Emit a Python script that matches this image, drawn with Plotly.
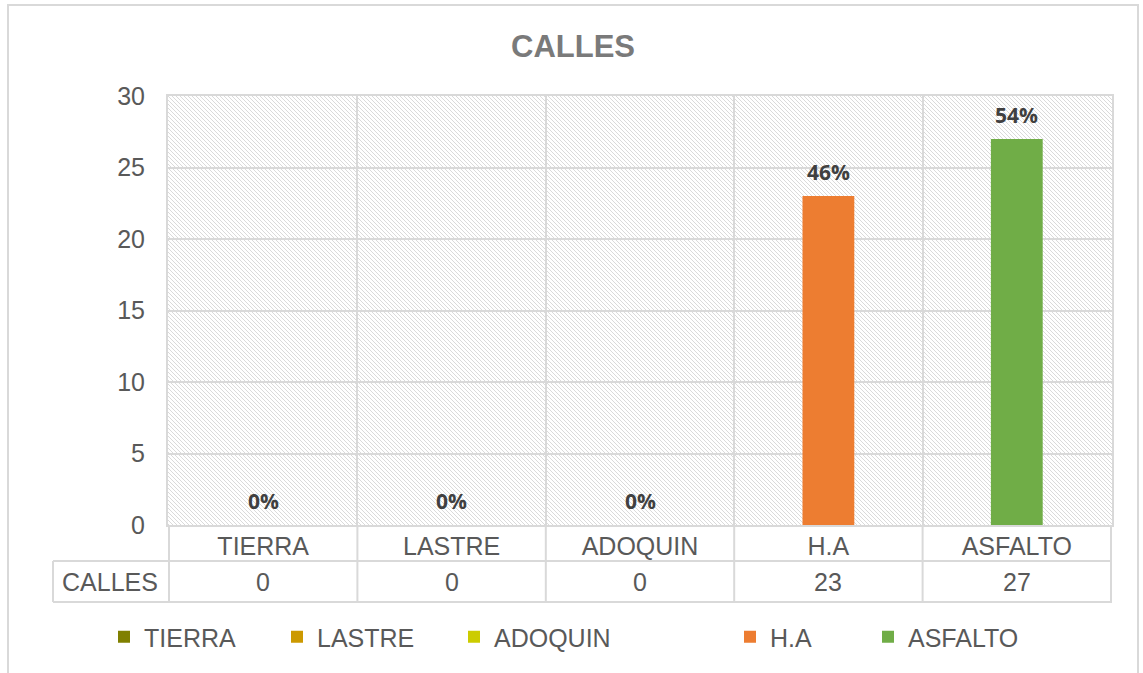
import base64
import plotly.graph_objects as go

categories = ["TIERRA", "LASTRE", "ADOQUIN", "H.A", "ASFALTO"]
values = [0, 0, 0, 23, 27]
colors = ["#808000", "#CC9900", "#CCCC00", "#ED7D31", "#70AD47"]
row_label = "CALLES"
title_text = "CALLES"
y_ticks = [0, 5, 10, 15, 20, 25, 30]

W, H = 1143, 673
L, R, T, B = 168, 31, 96, 148
PW, PH = W - L - R, H - T - B

def px_x(p):
    return (p - L) / PW

def px_y(p):
    return (H - B - p) / PH

GRID = "#D9D9D9"
TXT = "#595959"

fig = go.Figure()
legend_text_x = [147, 320, 497, 773, 911]
for i, (c, v, col) in enumerate(zip(categories, values, colors)):
    lg = "legend" if i == 0 else f"legend{i+1}"
    fig.add_trace(go.Bar(x=[c], y=[v], name=c, marker=dict(color=col, line=dict(width=0)),
                         width=0.275, legend=lg, hoverinfo="x+y"))

total = sum(values)
ann = []
for c, v in zip(categories, values):
    ann.append(dict(x=c, y=v, xref="x", yref="y", text=f"<b>{round(100*v/total)}%</b>",
                    showarrow=False, yanchor="bottom", yshift=8,
                    font=dict(family="Open Sans", size=21, color="#404040")))
    ann.append(dict(x=c, y=px_y(581.5), xref="x", yref="paper", text=str(v), showarrow=False,
                    yanchor="middle", font=dict(family="Liberation Sans, Arial", size=25, color=TXT)))
ann.append(dict(x=px_x(110), y=px_y(581.5), xref="paper", yref="paper", text=row_label,
                showarrow=False, xanchor="center", yanchor="middle",
                font=dict(family="Liberation Sans, Arial", size=25, color=TXT)))

shapes = []
# outer chart border
shapes.append(dict(type="rect", xref="paper", yref="paper", x0=px_x(8), x1=px_x(1138),
                   y0=px_y(690), y1=px_y(5), line=dict(color=GRID, width=2), layer="below"))
# data table lines
for yy in (561, 602):
    shapes.append(dict(type="line", xref="paper", yref="paper", x0=px_x(53), x1=1,
                       y0=px_y(yy), y1=px_y(yy), line=dict(color=GRID, width=2)))
shapes.append(dict(type="line", xref="paper", yref="paper", x0=px_x(53), x1=px_x(53),
                   y0=px_y(561), y1=px_y(602), line=dict(color=GRID, width=2)))
for k in range(len(categories) + 1):
    shapes.append(dict(type="line", xref="x", yref="paper", x0=k - 0.5, x1=k - 0.5,
                       y0=0, y1=px_y(602), line=dict(color=GRID, width=2)))

svg = ('<svg xmlns="http://www.w3.org/2000/svg" width="944" height="429" viewBox="0 0 944 429" '
       'preserveAspectRatio="none"><defs><pattern id="h" patternUnits="userSpaceOnUse" width="4" height="4">'
       '<path d="M-1,-1 L5,5 M-1,3 L1,5 M3,-1 L5,1" stroke="#DADADA" stroke-width="1"/></pattern></defs>'
       '<rect width="100%" height="100%" fill="#FFFFFF"/><rect width="100%" height="100%" fill="url(#h)"/></svg>')
src = "data:image/svg+xml;base64," + base64.b64encode(svg.encode()).decode()

layout_legends = {}
for i in range(len(categories)):
    key = "legend" if i == 0 else f"legend{i+1}"
    layout_legends[key] = dict(xref="container", yref="container", x=(legend_text_x[i] - 43) / W,
                               y=1 - 637 / H, xanchor="left", yanchor="middle", orientation="h",
                               bgcolor="rgba(0,0,0,0)",
                               font=dict(family="Liberation Sans, Arial", size=25, color=TXT))

fig.update_layout(
    width=W, height=H,
    margin=dict(l=L, r=R, t=T, b=B),
    paper_bgcolor="white", plot_bgcolor="rgba(0,0,0,0)",
    barmode="overlay",
    title=dict(text=f"<b>{title_text}</b>", x=573 / W, xanchor="center", y=1 - 46 / H, yanchor="middle",
               xref="container", yref="container",
               font=dict(family="Liberation Sans, Arial", size=31, color="#7A7A7A")),
    showlegend=True,
    annotations=ann, shapes=shapes,
    images=[dict(source=src, xref="paper", yref="paper", x=0, y=1, sizex=1, sizey=1,
                 sizing="stretch", xanchor="left", yanchor="top", layer="below")],
    xaxis=dict(type="category", categoryorder="array", categoryarray=categories,
               tickson="boundaries", showgrid=True, gridcolor=GRID, gridwidth=2,
               showline=True, linecolor=GRID, linewidth=2, mirror=True, ticks="",
               ticklabelstandoff=-2,
               tickfont=dict(family="Liberation Sans, Arial", size=25, color=TXT)),
    yaxis=dict(range=[0, 30], tickvals=y_ticks, showgrid=True, gridcolor=GRID, gridwidth=2,
               showline=True, linecolor=GRID, linewidth=2, mirror=True, ticks="",
               zeroline=False, ticklabelstandoff=16,
               tickfont=dict(family="Liberation Sans, Arial", size=25, color=TXT)),
    **layout_legends,
)

fig.write_html("out.html", config={"displayModeBar": False},
               post_script="document.body.style.margin='0';document.body.style.padding='0';")
